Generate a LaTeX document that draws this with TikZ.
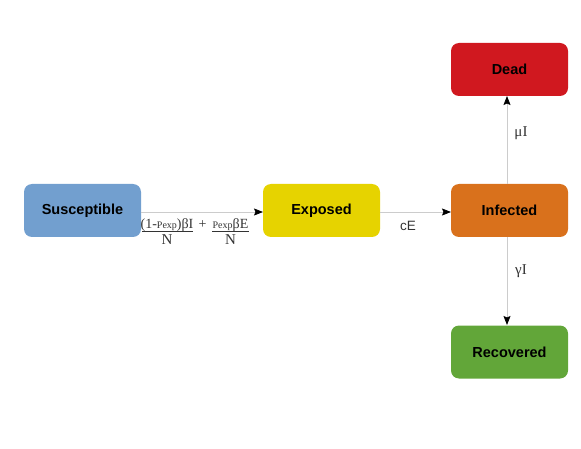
\documentclass[tikz,border=0pt]{standalone}
\usepackage{fontspec}
\setmainfont{Liberation Serif}
\setsansfont{Liberation Sans}
\usetikzlibrary{arrows.meta}
\definecolor{cS}{HTML}{729FCF}
\definecolor{cE}{HTML}{E6D300}
\definecolor{cI}{HTML}{D9711C}
\definecolor{cD}{HTML}{D0181F}
\definecolor{cR}{HTML}{62A639}
\definecolor{edgegray}{HTML}{CCCCCC}
\definecolor{textgray}{HTML}{333333}
\newcommand{\smallp}[1]{{\fontsize{10}{11}\selectfont #1}}
\tikzset{
  statebox/.style={rectangle, rounded corners=8pt, minimum width=117pt, minimum height=53pt, inner sep=0pt,
    font=\sffamily\bfseries\fontsize{14.5}{16}\selectfont, text=black},
  flow/.style={draw=edgegray, line width=0.8pt, -{Stealth[length=9pt,width=7pt,inset=1.5pt,black]}},
  lab/.style={font=\fontsize{15}{17}\selectfont, inner sep=0pt, text=textgray},
  fracpart/.style={font=\fontsize{14}{15}\selectfont, inner sep=0pt, anchor=base, text=textgray},
  fracbar/.style={draw=textgray, line width=0.9pt},
}
\begin{document}
\begin{tikzpicture}[x=1pt,y=-1pt]
\useasboundingbox (0,0) rectangle (581,449);
\node[statebox, fill=cS] (S) at (82.5,210.5) {Susceptible};
\node[statebox, fill=cE] (E) at (321.5,210.5) {Exposed};
\node[statebox, fill=cI] (I) at (509.5,210.5) {Infected};
\node[statebox, fill=cD] (D) at (509.5,69.5) {Dead};
\node[statebox, fill=cR] (R) at (509.5,352) {Recovered};
\coordinate (Sr) at (141,212);
\coordinate (El) at (263,212);
\coordinate (Er) at (380,212);
\coordinate (Il) at (451,212);
\coordinate (It) at (507,184);
\coordinate (Db) at (507,96);
\coordinate (Ib) at (507,237);
\coordinate (Rt) at (507,325);
\draw[flow] (Sr) -- (El);
\draw[flow] (Er) -- (Il);
\draw[flow] (It) -- (Db);
\draw[flow] (Ib) -- (Rt);
% formula label on S -> E
\node[fracpart] (n1) at (167,229) {(1-\smallp{Pexp})βI};
\coordinate (b1l) at (142,231.5);
\coordinate (b1r) at (193,231.5);
\draw[fracbar] (b1l) -- (b1r);
\node[fracpart, font=\fontsize{15}{16}\selectfont] (d1) at (167,244) {N};
\node[fracpart, font=\fontsize{14}{15}\selectfont] (plus) at (202.5,229) {+};
\node[fracpart] (n2) at (230.5,229) {\smallp{Pexp}βE};
\coordinate (b2l) at (212,231.5);
\coordinate (b2r) at (249,231.5);
\draw[fracbar] (b2l) -- (b2r);
\node[fracpart, font=\fontsize{15}{16}\selectfont] (d2) at (230.5,244) {N};
\node[lab, font=\sffamily\fontsize{13.5}{15}\selectfont] (lE) at (408,226) {cE};
\node[lab] (lD) at (521,133) {μI};
\node[lab] (lR) at (521,271) {γI};
\end{tikzpicture}
\end{document}
